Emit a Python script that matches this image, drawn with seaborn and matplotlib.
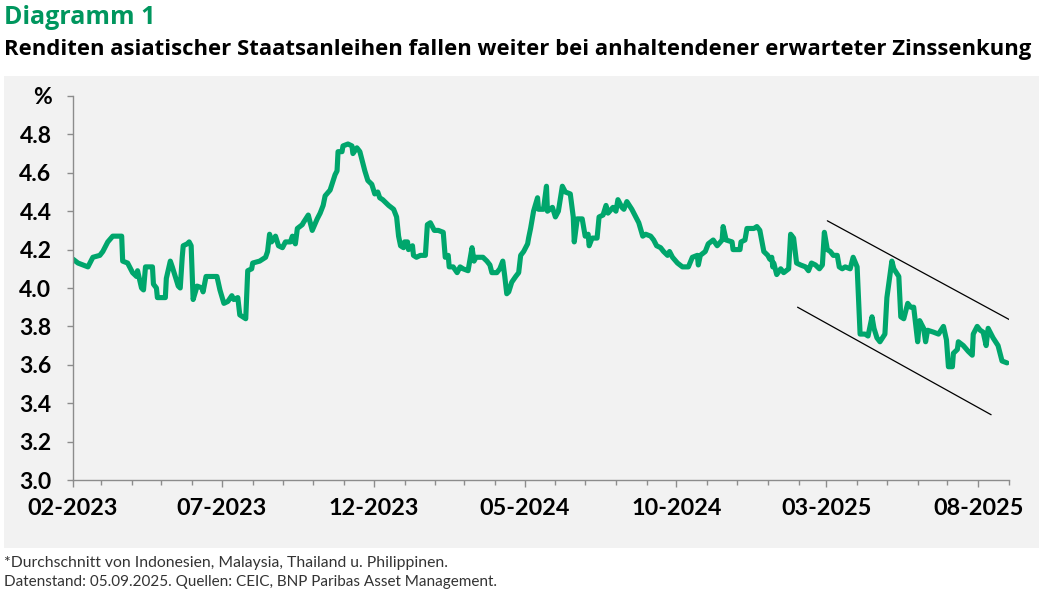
import pandas as pd
import seaborn as sns
import matplotlib.pyplot as plt
import matplotlib.dates as mdates
from matplotlib.patches import Rectangle

# Durchschnittsrendite asiatischer Staatsanleihen (%), Beobachtungen als Tage ab Startdatum
start_date = "2023-02-01"
obs_day = [
    0, 5, 10, 15, 20, 27, 30, 35, 40, 49, 50, 55, 60, 64, 65, 69, 71, 73, 80, 81,
    84, 85, 93, 94, 98, 100, 103, 106, 108, 110, 111, 115, 117, 119, 121, 125, 130, 131, 134, 145,
    148, 152, 156, 160, 162, 166, 168, 171, 174, 176, 180, 181, 188, 194, 196, 198, 200, 204, 207, 211,
    214, 219, 221, 224, 226, 231, 232, 237, 241, 246, 249, 252, 254, 259, 264, 266, 267, 271, 272, 277,
    281, 282, 286, 289, 294, 297, 301, 304, 307, 309, 312, 318, 323, 326, 328, 330, 333, 334, 337, 338,
    342, 343, 346, 350, 355, 357, 360, 364, 368, 373, 375, 378, 379, 383, 387, 390, 393, 398, 402, 404,
    406, 413, 417, 420, 422, 427, 430, 433, 435, 437, 439, 442, 446, 449, 451, 454, 458, 459, 461, 464,
    468, 469, 474, 477, 478, 483, 486, 489, 493, 496, 501, 504, 505, 508, 513, 516, 519, 520, 523, 528,
    530, 534, 537, 539, 544, 547, 549, 553, 555, 558, 563, 568, 570, 574, 577, 582, 585, 588, 592, 595,
    599, 601, 604, 609, 614, 617, 620, 624, 629, 630, 632, 637, 640, 645, 649, 654, 655, 658, 664, 665,
    672, 673, 677, 679, 686, 689, 692, 696, 700, 702, 704, 705, 706, 709, 713, 716, 721, 723, 726, 729,
    733, 738, 741, 744, 748, 752, 755, 757, 760, 763, 766, 770, 772, 775, 778, 783, 786, 790, 793, 798,
    801, 805, 807, 810, 813, 818, 820, 825, 827, 832, 834, 837, 841, 844, 847, 851, 853, 857, 859, 861,
    867, 872, 877, 880, 882, 886, 887, 891, 892, 897, 902, 906, 907, 911, 914, 917, 920, 922, 927, 932,
    936, 941,
]
yield_pct = [
    4.15, 4.13, 4.12, 4.11, 4.16, 4.17, 4.19, 4.24, 4.27, 4.27, 4.14, 4.13, 4.08, 4.06, 4.09, 4.00, 3.99, 4.11, 4.11, 4.02,
    4.00, 3.95, 3.95, 4.05, 4.14, 4.11, 4.06, 4.01, 4.00, 4.16, 4.22, 4.23, 4.24, 4.22, 3.94, 4.01, 4.00, 3.98, 4.06, 4.06,
    3.99, 3.92, 3.93, 3.96, 3.94, 3.95, 3.86, 3.85, 3.84, 4.09, 4.10, 4.13, 4.14, 4.16, 4.19, 4.28, 4.24, 4.27, 4.22, 4.21,
    4.24, 4.24, 4.27, 4.23, 4.31, 4.33, 4.34, 4.38, 4.30, 4.36, 4.39, 4.43, 4.48, 4.51, 4.59, 4.61, 4.71, 4.71, 4.74, 4.75,
    4.74, 4.70, 4.73, 4.71, 4.61, 4.56, 4.54, 4.49, 4.50, 4.47, 4.46, 4.43, 4.41, 4.37, 4.27, 4.22, 4.21, 4.24, 4.24, 4.20,
    4.22, 4.17, 4.16, 4.17, 4.17, 4.33, 4.34, 4.30, 4.30, 4.29, 4.16, 4.17, 4.11, 4.11, 4.08, 4.11, 4.10, 4.09, 4.21, 4.14,
    4.16, 4.16, 4.14, 4.12, 4.08, 4.08, 4.10, 4.14, 4.06, 3.97, 3.98, 4.03, 4.06, 4.08, 4.17, 4.19, 4.23, 4.26, 4.31, 4.40,
    4.47, 4.41, 4.41, 4.53, 4.40, 4.42, 4.37, 4.40, 4.53, 4.50, 4.49, 4.37, 4.24, 4.36, 4.36, 4.27, 4.28, 4.22, 4.26, 4.26,
    4.37, 4.38, 4.43, 4.39, 4.42, 4.40, 4.46, 4.42, 4.41, 4.45, 4.41, 4.36, 4.34, 4.27, 4.28, 4.27, 4.25, 4.22, 4.21, 4.19,
    4.17, 4.19, 4.16, 4.13, 4.11, 4.11, 4.11, 4.16, 4.17, 4.12, 4.17, 4.19, 4.23, 4.25, 4.22, 4.25, 4.32, 4.25, 4.24, 4.20,
    4.20, 4.24, 4.25, 4.31, 4.31, 4.32, 4.30, 4.19, 4.17, 4.15, 4.16, 4.11, 4.13, 4.07, 4.10, 4.08, 4.10, 4.28, 4.26, 4.13,
    4.12, 4.11, 4.09, 4.13, 4.12, 4.10, 4.12, 4.29, 4.20, 4.19, 4.17, 4.17, 4.11, 4.10, 4.11, 4.10, 4.16, 4.11, 3.76, 3.76,
    3.75, 3.85, 3.79, 3.74, 3.72, 3.76, 3.95, 4.14, 4.10, 4.06, 3.85, 3.84, 3.92, 3.90, 3.90, 3.72, 3.83, 3.79, 3.72, 3.78,
    3.77, 3.76, 3.80, 3.73, 3.59, 3.59, 3.66, 3.68, 3.72, 3.70, 3.67, 3.65, 3.76, 3.80, 3.78, 3.77, 3.70, 3.79, 3.74, 3.70,
    3.62, 3.61,
]

# Abwaertstrend-Kanal
trend_upper_day = [760, 956]
trend_upper_pct = [4.35, 3.80]
trend_lower_day = [730, 925]
trend_lower_pct = [3.90, 3.34]

y_ticks = [3.0, 3.2, 3.4, 3.6, 3.8, 4.0, 4.2, 4.4, 4.6, 4.8, 5.0]
y_tick_labels = ["3.0", "3.2", "3.4", "3.6", "3.8", "4.0", "4.2", "4.4", "4.6", "4.8", "%"]
x_major_months = ["2023-02-01", "2023-07-01", "2023-12-01", "2024-05-01",
                  "2024-10-01", "2025-03-01", "2025-08-01"]
x_end = "2025-09-01"

green = "#00a66c"
title_green = "#00965e"
axis_grey = "#8c8c8c"

sns.set_theme(style="white")
plt.rcParams["font.family"] = ["Lato", "DejaVu Sans"]

t0 = pd.Timestamp(start_date)
df = pd.DataFrame({
    "date": t0 + pd.to_timedelta(obs_day, unit="D"),
    "rendite": yield_pct,
})

fig = plt.figure(figsize=(10.39, 5.94), dpi=100)
fig.patches.append(Rectangle((0.004, 0.077), 0.996, 0.795, transform=fig.transFigure,
                             facecolor="#f2f2f2", edgecolor="none", zorder=-5))
ax = fig.add_axes([0.0703, 0.1919, 0.9008, 0.6465])
ax.set_facecolor("none")
ax.set_zorder(2)

sns.lineplot(data=df, x="date", y="rendite", color=green, linewidth=3.7, ax=ax)
for days, vals in [(trend_upper_day, trend_upper_pct), (trend_lower_day, trend_lower_pct)]:
    sns.lineplot(x=t0 + pd.to_timedelta(days, unit="D"), y=vals, color="black",
                 linewidth=0.9, ax=ax)

ax.set_xlim(t0, pd.Timestamp(x_end))
ax.set_ylim(3.0, 5.0)
ax.set_yticks(y_ticks)
ax.set_yticklabels(y_tick_labels)
ax.set_xticks(pd.to_datetime(x_major_months))
ax.xaxis.set_major_formatter(mdates.DateFormatter("%m-%Y"))
ax.xaxis.set_minor_locator(mdates.MonthLocator())
ax.set_xlabel("")
ax.set_ylabel("")

for side in ["top", "right"]:
    ax.spines[side].set_visible(False)
for side in ["left", "bottom"]:
    ax.spines[side].set_color(axis_grey)
    ax.spines[side].set_linewidth(1.0)

ax.tick_params(axis="y", which="major", direction="out", length=4.5, width=1,
               color=axis_grey, pad=11, labelsize=16.5, left=True)
ax.tick_params(axis="x", which="major", direction="out", length=5, width=1,
               color=axis_grey, pad=8, labelsize=16.8, bottom=True)
ax.tick_params(axis="x", which="minor", direction="out", length=3.5, width=1,
               color=axis_grey, bottom=True)
for lab in ax.get_xticklabels() + ax.get_yticklabels():
    lab.set_fontweight("bold")
    lab.set_color("black")

title_font = ["Open Sans", "DejaVu Sans"]
fig.text(0.004, 0.970, "Diagramm 1", fontsize=18, fontweight="bold", family=title_font,
         color=title_green, va="center", ha="left")
fig.text(0.004, 0.917,
         "Renditen asiatischer Staatsanleihen fallen weiter bei anhaltendener erwarteter Zinssenkung",
         fontsize=15.9, fontweight="bold", family=title_font, color="black", va="center", ha="left")
fig.text(0.004, 0.052, "*Durchschnitt von Indonesien, Malaysia, Thailand u. Philippinen.",
         fontsize=11.3, color="#333333", va="center", ha="left")
fig.text(0.004, 0.021, "Datenstand: 05.09.2025. Quellen: CEIC, BNP Paribas Asset Management.",
         fontsize=11, color="#333333", va="center", ha="left")

fig.savefig("out.png", dpi=100)
